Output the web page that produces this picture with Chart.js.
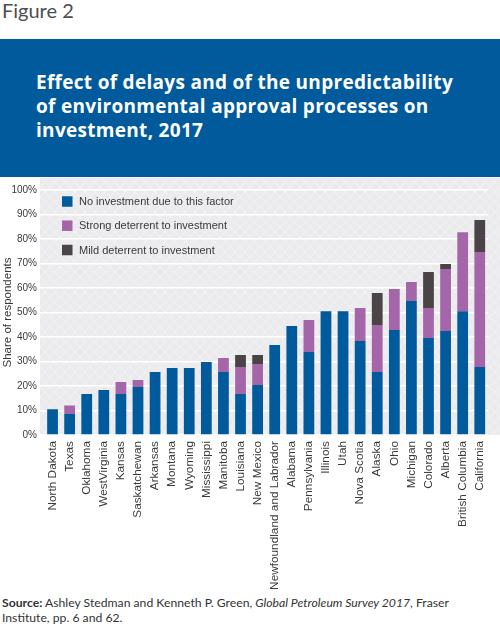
<!DOCTYPE html>
<html>
<head>
<meta charset="utf-8">
<script src="https://cdn.jsdelivr.net/npm/chart.js@4"></script>
<style>
  body { margin: 0; width: 500px; height: 630px; background: #fff; position: relative; overflow: hidden; font-family: Lato, "Noto Sans", sans-serif; }
  #fig { position: absolute; left: 2px; top: -2px; font-size: 20px; line-height: 24px; color: #4d4d4d; }
  #header { position: absolute; left: 0; top: 39px; width: 500px; height: 138px; background: #005a9c; }
  #header h1 { margin: 0; position: absolute; left: 36px; top: 30.5px; font-family: "Open Sans", sans-serif; font-size: 19px; letter-spacing: 0.3px; line-height: 24.3px; color: #fff; font-weight: 700; white-space: nowrap; }
  #wrap { position: absolute; left: 0; top: 177px; width: 500px; height: 413px; }
  #source { position: absolute; left: 2px; top: 594.5px; font-size: 12.2px; line-height: 15px; color: #333; }
  #source i { font-family: Lato, sans-serif; font-style: italic; }
</style>
</head>
<body>
<div id="fig">Figure 2</div>
<div id="header"><h1>Effect of delays and of the unpredictability<br>of environmental approval processes on<br>investment, 2017</h1></div>
<div id="wrap"><canvas id="chart"></canvas></div>
<div id="source"><b>Source:</b> Ashley Stedman and Kenneth P. Green, <i>Global Petroleum Survey 2017</i>, Fraser<br>Institute, pp. 6 and 62.</div>
<script>
const categories = [
  "North Dakota", "Texas", "Oklahoma", "WestVirginia", "Kansas", "Saskatchewan",
  "Arkansas", "Montana", "Wyoming", "Mississippi", "Manitoba", "Louisiana",
  "New Mexico", "Newfoundland and Labrador", "Alabama", "Pennsylvania", "Illinois",
  "Utah", "Nova Scotia", "Alaska", "Ohio", "Michigan", "Colorado", "Alberta",
  "British Columbia", "California",
];
const noInvestment = [10.5, 8.6, 16.7, 18.4, 16.7, 19.6, 25.7, 27.3, 27.3, 29.8, 25.7, 16.7, 20.4, 36.7, 44.5, 33.9, 50.5, 50.5, 38.4, 25.7, 42.9, 54.7, 39.6, 42.4, 50.5, 27.8];
const strongDeterrent = [0, 3.4, 0, 0, 4.9, 2.8, 0, 0, 0, 0, 5.7, 11.1, 8.6, 0, 0, 13.0, 0, 0, 13.4, 19.2, 16.7, 7.7, 12.2, 25.4, 32.3, 46.9];
const mildDeterrent = [0, 0, 0, 0, 0, 0, 0, 0, 0, 0, 0, 4.9, 3.7, 0, 0, 0, 0, 0, 0, 13.1, 0, 0, 14.7, 2.0, 0, 13.1];
const seriesLabels = ["No investment due to this factor", "Strong deterrent to investment", "Mild deterrent to investment"];

const COLORS = ["#005a9b", "#a466a8", "#4a4446"];
const TEXT = "#3a3a3a";
const FONT = "'Liberation Sans', Arial, sans-serif";

Chart.defaults.font.family = FONT;

function makePattern(ctx) {
  const tile = document.createElement("canvas");
  tile.width = 10;
  tile.height = 10;
  const t = tile.getContext("2d");
  t.fillStyle = "#ebebed";
  t.fillRect(0, 0, 10, 10);
  t.strokeStyle = "#f2f2f4";
  t.lineWidth = 1;
  t.beginPath();
  t.moveTo(0, 0); t.lineTo(10, 10);
  t.moveTo(10, 0); t.lineTo(0, 10);
  t.stroke();
  return ctx.createPattern(tile, "repeat");
}

// grey hatched panel behind the plot
const panelBackground = {
  id: "panelBackground",
  beforeDraw(chart) {
    const { ctx, chartArea } = chart;
    ctx.save();
    ctx.fillStyle = makePattern(ctx);
    ctx.fillRect(40, 1, chart.width - 40, chartArea.bottom - 1);
    ctx.restore();
  },
};

// legend sits inside the plot, stacked vertically
const innerLegend = {
  id: "innerLegend",
  afterDraw(chart) {
    const { ctx } = chart;
    const rows = [24.5, 48.7, 73];
    ctx.save();
    ctx.font = "11px " + FONT;
    ctx.textBaseline = "middle";
    seriesLabels.forEach((label, i) => {
      ctx.fillStyle = COLORS[i];
      ctx.fillRect(62, rows[i] - 5.25, 10.5, 10.5);
      ctx.fillStyle = TEXT;
      ctx.fillText(label, 79, rows[i] + 0.5);
    });
    ctx.restore();
  },
};

const datasets = [noInvestment, strongDeterrent, mildDeterrent].map((data, i) => ({
  label: seriesLabels[i],
  data,
  backgroundColor: COLORS[i],
  borderWidth: 0,
  barPercentage: 0.63,
  categoryPercentage: 1,
}));

new Chart(document.getElementById("chart"), {
  type: "bar",
  data: { labels: categories, datasets },
  plugins: [panelBackground, innerLegend],
  options: {
    responsive: true,
    maintainAspectRatio: false,
    animation: false,
    layout: { padding: { top: 13, right: 4, left: 0, bottom: 0 } },
    plugins: {
      legend: { display: false },
      tooltip: { enabled: false },
    },
    scales: {
      x: {
        stacked: true,
        grid: { display: false, drawTicks: false },
        border: { display: false },
        ticks: {
          autoSkip: false,
          maxRotation: 90,
          minRotation: 90,
          padding: 6,
          color: TEXT,
          font: { size: 11.8 },
        },
        afterFit(scale) {
          scale.height = 155;
        },
      },
      y: {
        stacked: true,
        min: 0,
        max: 100,
        grid: { color: "#ffffff", lineWidth: 1.5, drawTicks: true, tickLength: 4 },
        border: { display: false },
        ticks: {
          stepSize: 10,
          padding: 3,
          color: TEXT,
          font: { size: 10 },
          callback: (value) => value + "%",
        },
        title: {
          display: true,
          text: "Share of respondents",
          color: TEXT,
          font: { size: 11.5 },
          padding: { top: 1, bottom: 0 },
        },
        afterFit(scale) {
          scale.width = 44;
        },
      },
    },
  },
});
</script>
</body>
</html>
